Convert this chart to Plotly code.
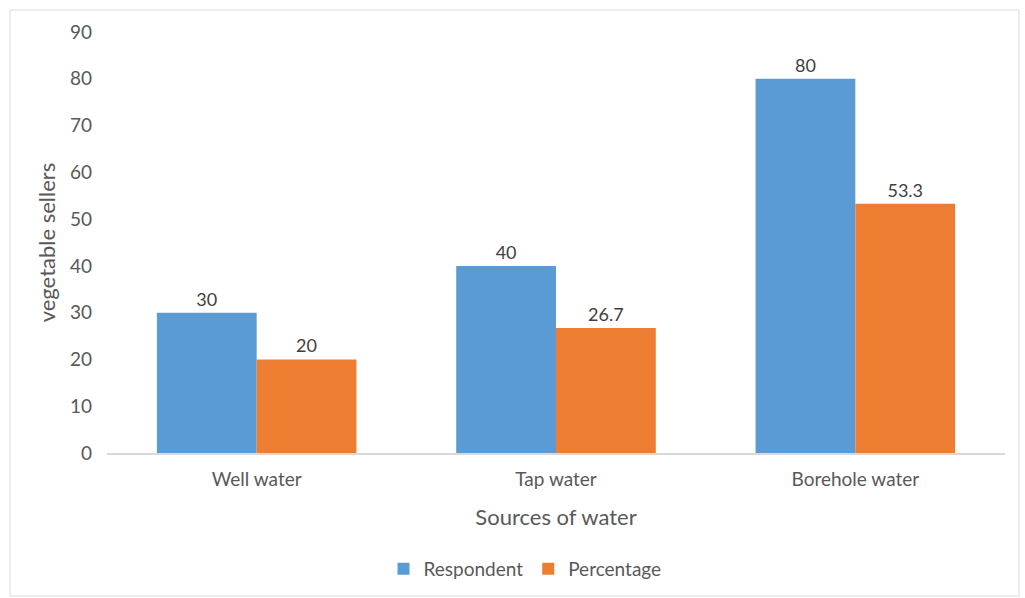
import plotly.graph_objects as go

categories = ["Well water", "Tap water", "Borehole water"]
respondent = [30, 40, 80]
percentage = [20, 26.7, 53.3]
respondent_labels = ["30", "40", "80"]
percentage_labels = ["20", "26.7", "53.3"]

FONT = "Lato, Open Sans, sans-serif"

fig = go.Figure()
fig.add_trace(go.Bar(
    x=categories, y=respondent, name="Respondent",
    marker=dict(color="#5b9bd5", line=dict(width=0)),
    text=respondent_labels, textposition="outside",
    textfont=dict(color="#404040", size=18, family=FONT),
    cliponaxis=False,
))
fig.add_trace(go.Bar(
    x=categories, y=percentage, name="Percentage",
    marker=dict(color="#ed7d31", line=dict(width=0)),
    text=percentage_labels, textposition="outside",
    textfont=dict(color="#404040", size=18, family=FONT),
    cliponaxis=False,
))

L, R, T, B = 107, 20, 32, 145
W, H = 1025, 598
pw, ph = W - L - R, H - T - B

fig.update_layout(
    width=W, height=H,
    margin=dict(l=L, r=R, t=T, b=B, autoexpand=False),
    paper_bgcolor="white", plot_bgcolor="white",
    barmode="group", bargap=1/3, bargroupgap=0,
    font=dict(family=FONT, color="#595959", size=19),
    showlegend=True,
    legend=dict(orientation="h", x=(525 - L) / pw, xanchor="center",
                y=(H - B - 569) / ph, yanchor="middle",
                font=dict(size=19, color="#595959"), itemwidth=30,
                traceorder="normal"),
    xaxis=dict(
        showline=True, linecolor="#d9d9d9", linewidth=1.5,
        showgrid=False, ticks="", ticklabelstandoff=8,
        tickfont=dict(size=19, color="#595959"),
        title=dict(text="Sources of water", font=dict(size=22, color="#595959"), standoff=21),
    ),
    yaxis=dict(
        range=[0, 90], dtick=10, showgrid=False, showline=False,
        zeroline=False, ticks="", ticklabelstandoff=14,
        tickfont=dict(size=19, color="#595959"),
        title=dict(text="vegetable sellers", font=dict(size=22, color="#595959"), standoff=8),
    ),
    shapes=[dict(
        type="rect", xref="paper", yref="paper",
        x0=(10 - L) / pw, x1=(1019 - L) / pw,
        y0=(H - B - 596) / ph, y1=(H - B - 10) / ph,
        line=dict(color="#d9d9d9", width=1), fillcolor="rgba(0,0,0,0)",
        layer="below",
    )],
)

fig.write_html("out.html")
